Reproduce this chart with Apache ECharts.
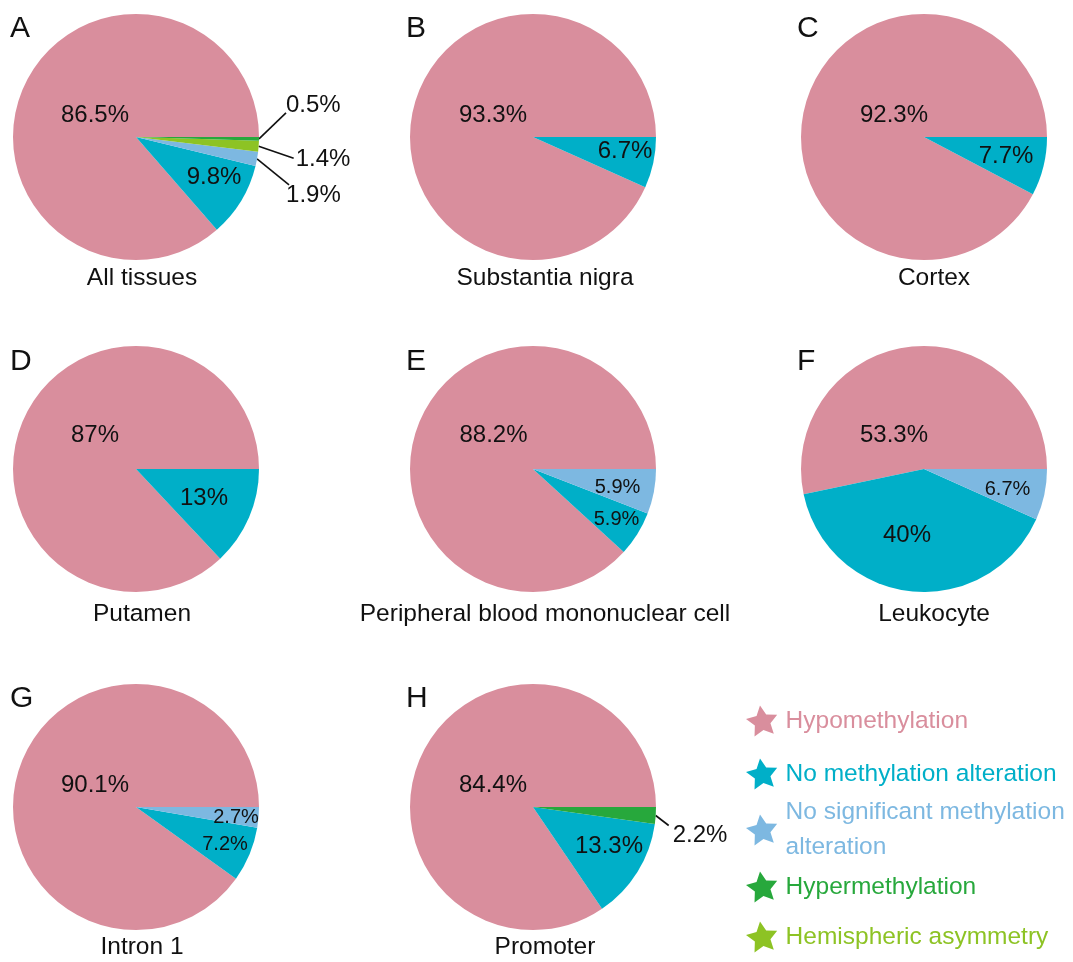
<!DOCTYPE html>
<html><head><meta charset="utf-8">
<script src="https://cdn.jsdelivr.net/npm/echarts@6/dist/echarts.min.js"></script>
<style>html,body{margin:0;padding:0;background:#fff}#c{width:1073px;height:962px}</style>
</head><body><div id="c"></div>
<script>
// ---------------- DATA ----------------
const categories = ['Hypomethylation', 'No methylation alteration', 'No significant methylation alteration', 'Hypermethylation', 'Hemispheric asymmetry'];
// order in which slices are drawn (counter-clockwise from 3 o'clock)
const sliceOrder = ['Hypomethylation', 'No methylation alteration', 'No significant methylation alteration', 'Hemispheric asymmetry', 'Hypermethylation'];
const panelLetters = ['A', 'B', 'C', 'D', 'E', 'F', 'G', 'H'];
const panelNames = ['All tissues', 'Substantia nigra', 'Cortex', 'Putamen', 'Peripheral blood mononuclear cell', 'Leukocyte', 'Intron 1', 'Promoter'];
// values (%) in sliceOrder
const valuesA = [86.5, 9.8, 1.9, 1.4, 0.5];
const valuesB = [93.3, 6.7, 0, 0, 0];
const valuesC = [92.3, 7.7, 0, 0, 0];
const valuesD = [87, 13, 0, 0, 0];
const valuesE = [88.2, 5.9, 5.9, 0, 0];
const valuesF = [53.3, 40, 6.7, 0, 0];
const valuesG = [90.1, 7.2, 2.7, 0, 0];
const valuesH = [84.4, 13.3, 0, 0, 2.2];
const panelValues = [valuesA, valuesB, valuesC, valuesD, valuesE, valuesF, valuesG, valuesH];

// ---------------- STYLE / LAYOUT ----------------
const FONT = "'Liberation Sans', Arial, sans-serif";
const colors = {
  'Hypomethylation': '#D98E9D',
  'No methylation alteration': '#00AFC8',
  'No significant methylation alteration': '#7DB8E1',
  'Hypermethylation': '#27A83C',
  'Hemispheric asymmetry': '#8DC324'
};
const colX = [136, 533, 924];
const rowY = [137, 469, 807];
const R = 123;
const letterLeft = [10, 406, 797];
const letterMidY = [28.5, 362, 699];
const nameX = [142, 545, 934];
const nameMidY = [278.5, 614, 947];

// label placement (offsets from pie centre, or leader-line offsets)
const HYPO = 'Hypomethylation', NOM = 'No methylation alteration', NOS = 'No significant methylation alteration', HYP = 'Hypermethylation', HEM = 'Hemispheric asymmetry';
const labelStyles = [
  { [HYPO]: {at: [-41, -22]}, [NOM]: {at: [78, 40]}, [NOS]: {line: [32, 26], txt: [-3, 10]}, [HEM]: {line: [35, 12], txt: [2, 1]}, [HYP]: {line: [27, -26], txt: [0, -8]} },
  { [HYPO]: {at: [-40, -22]}, [NOM]: {at: [92, 14]} },
  { [HYPO]: {at: [-30, -22]}, [NOM]: {at: [82, 19]} },
  { [HYPO]: {at: [-41, -34]}, [NOM]: {at: [68, 29]} },
  { [HYPO]: {at: [-39.5, -34]}, [NOM]: {at: [83.5, 50.5], size: 20}, [NOS]: {at: [84.5, 18.5], size: 20} },
  { [HYPO]: {at: [-30, -34]}, [NOM]: {at: [-17, 66]}, [NOS]: {at: [83.5, 20], size: 20} },
  { [HYPO]: {at: [-41, -22]}, [NOM]: {at: [89, 37], size: 20}, [NOS]: {at: [100, 10], size: 20} },
  { [HYPO]: {at: [-40, -22]}, [NOM]: {at: [76, 39]}, [HYP]: {line: [13, 10], txt: [4, 9.5]} }
];

function starIcon(rotDeg, inner) {
  const pts = [];
  for (let i = 0; i < 10; i++) {
    const a = (-90 + rotDeg + i * 36) * Math.PI / 180;
    const r = (i % 2) ? inner : 1;
    pts.push((50 + 50 * r * Math.cos(a)).toFixed(2) + ' ' + (50 + 50 * r * Math.sin(a)).toFixed(2));
  }
  return 'path://M' + pts.join(' L') + ' Z';
}
const STAR = starIcon(-8, 0.5);

// ---------------- BUILD ----------------
const series = [];
const titles = [];
panelValues.forEach((vals, p) => {
  const col = p % 3, row = Math.floor(p / 3);
  const cx = colX[col], cy = rowY[row];
  const items = [];
  sliceOrder.forEach((name, k) => {
    const v = vals[k];
    if (!(v > 0)) return;
    const st = labelStyles[p][name];
    const outside = !!st.line;
    items.push({
      name: name, value: v,
      itemStyle: {color: colors[name], borderWidth: 0},
      label: {show: true, position: outside ? 'outside' : 'center', fontSize: st.size || 24, color: '#111', fontFamily: FONT, formatter: '{c}%'},
      labelLine: {show: outside, length: 10, length2: 0, smooth: false, lineStyle: {color: '#111', width: 1.6}}
    });
  });
  const total = items.reduce((s, d) => s + d.value, 0);
  const cum = [];
  let acc = 0;
  items.forEach(d => { cum.push(acc); acc += d.value; });
  series.push({
    type: 'pie', center: [cx, cy], radius: R, startAngle: 0, clockwise: false,
    avoidLabelOverlap: false, silent: true, animation: false,
    emphasis: {disabled: true},
    data: items,
    labelLayout: function (params) {
      const d = items[params.dataIndex];
      const st = labelStyles[p][d.name];
      if (st.line) {
        const mid = 2 * Math.PI * (cum[params.dataIndex] + d.value / 2) / total;
        const p0 = [cx + R * Math.cos(mid), cy - R * Math.sin(mid)];
        const ex = p0[0] + st.line[0], ey = p0[1] + st.line[1];
        return {x: ex + st.txt[0], y: ey + st.txt[1], align: 'left', verticalAlign: 'middle', labelLinePoints: [p0, [ex, ey]]};
      }
      return {x: cx + st.at[0], y: cy + st.at[1], align: 'center', verticalAlign: 'middle'};
    }
  });
  titles.push({
    text: panelLetters[p], left: letterLeft[col], top: letterMidY[row] - 15, padding: 0,
    textAlign: 'left', textVerticalAlign: 'top',
    textStyle: {fontSize: 30, lineHeight: 30, fontWeight: 'normal', color: '#111', fontFamily: FONT}
  });
  titles.push({
    text: panelNames[p], left: nameX[col], top: nameMidY[row] - 12, padding: 0,
    textAlign: 'center', textVerticalAlign: 'top',
    textStyle: {fontSize: 24.5, lineHeight: 24, fontWeight: 'normal', color: '#111', fontFamily: FONT}
  });
});

const legendCenterY = [721, 774, 830, 887, 937];
const legends = categories.map((name, i) => {
  const twoLine = name === NOS;
  const lh = twoLine ? 35 : 24;
  const padB = twoLine ? 10 : 0;
  const top = twoLine ? legendCenterY[i] - (2 * lh + padB) / 2 : legendCenterY[i] - 15.5;
  return {
    data: [name], orient: 'vertical', left: 746, top: top, padding: 0, itemGap: 0,
    itemWidth: 38, itemHeight: 31, icon: STAR, selectedMode: false,
    formatter: n => n === NOS ? 'No significant methylation\nalteration' : n,
    textStyle: {color: colors[name], fontSize: 24.5, lineHeight: lh, fontFamily: FONT, padding: [0, 0, padB, 0]}
  };
});

const chart = echarts.init(document.getElementById('c'), null, {renderer: 'canvas'});
chart.setOption({
  backgroundColor: '#fff',
  animation: false,
  textStyle: {fontFamily: FONT},
  title: titles,
  legend: legends,
  series: series
});
</script>
</body></html>
